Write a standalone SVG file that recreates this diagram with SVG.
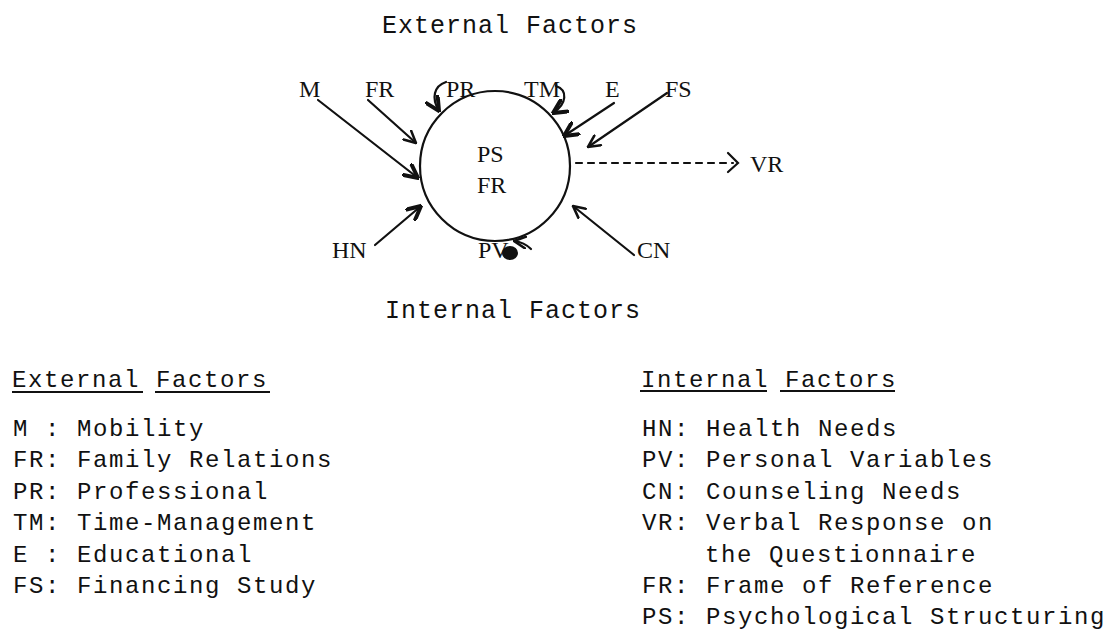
<svg xmlns="http://www.w3.org/2000/svg" width="1107" height="635" viewBox="0 0 1107 635">
<defs>
<style>
.t{font-family:"Liberation Mono","DejaVu Sans Mono",monospace;fill:#111}
.h{font-size:25px;letter-spacing:1px}
.l{font-size:24px;letter-spacing:1.6px}
.s{font-family:"Liberation Serif","DejaVu Serif",serif;font-size:24px;fill:#111}
.a{stroke:#111;stroke-width:2.2;fill:none;stroke-linecap:round}
.u{stroke:#111;stroke-width:2}
</style>
<marker id="ah" viewBox="0 0 12 12" refX="11" refY="6" markerWidth="14" markerHeight="14" markerUnits="userSpaceOnUse" orient="auto">
<path d="M1,1 L11,6 L1,11" fill="none" stroke="#111" stroke-width="2.2" stroke-linecap="round"/>
</marker>
<marker id="ahb" viewBox="0 0 12 12" refX="11" refY="6" markerWidth="16" markerHeight="16" markerUnits="userSpaceOnUse" orient="auto">
<path d="M1,1 L11,6 L1,11" fill="none" stroke="#111" stroke-width="3" stroke-linecap="round"/>
</marker>
</defs>
<rect width="1107" height="635" fill="#fff"/>

<text class="t h" x="382" y="33">External Factors</text>
<text class="t h" x="385" y="318">Internal Factors</text>

<g id="center">
<circle cx="495" cy="166" r="75" fill="none" stroke="#111" stroke-width="2.2"/>
<text class="s" x="477" y="162">PS</text>
<text class="s" x="477" y="193">FR</text>
</g>
<g id="M"><text class="s" x="299" y="97">M</text></g>
<g id="FR"><text class="s" x="365" y="97">FR</text></g>
<g id="PR"><text class="s" x="446" y="97">PR</text></g>
<g id="TM"><text class="s" x="524" y="97">TM</text></g>
<g id="E"><text class="s" x="605" y="97">E</text></g>
<g id="FS"><text class="s" x="665" y="97">FS</text></g>
<g id="HN"><text class="s" x="332" y="258">HN</text></g>
<g id="PV"><text class="s" x="478" y="258">PV</text></g>
<g id="CN"><text class="s" x="637" y="258">CN</text></g>
<g id="VR"><text class="s" x="750" y="172">VR</text></g>

<g id="connectors">
<line class="a" x1="318" y1="100" x2="418" y2="178" marker-end="url(#ahb)"/>
<line class="a" x1="368" y1="100" x2="416" y2="143" marker-end="url(#ah)"/>
<line class="a" x1="614" y1="103" x2="564" y2="136" marker-end="url(#ahb)"/>
<line class="a" x1="667" y1="93" x2="588" y2="147" marker-end="url(#ah)"/>
<line class="a" x1="375" y1="245" x2="421" y2="206" marker-end="url(#ahb)"/>
<line class="a" x1="634" y1="255" x2="573" y2="206" marker-end="url(#ah)"/>
<path class="a" d="M446,82 C434,86 431,98 439,111" stroke-width="3" marker-end="url(#ahb)"/>
<path class="a" d="M556,86 C568,90 567,104 553,113" stroke-width="3" marker-end="url(#ahb)"/>
<path class="a" d="M531,249 C527,245 522,242 514,241" marker-end="url(#ah)"/>
<ellipse cx="510" cy="253" rx="8" ry="7" fill="#111"/>
<line class="a" x1="576" y1="163" x2="733" y2="163" stroke-width="2.5" stroke-dasharray="6,6"/>
<polyline class="a" points="728,153 738,163 728,172" stroke-width="3.2"/>
</g>

<g id="legend-external">
<text class="t l" x="12" y="387">External Factors</text>
<line class="u" x1="12" y1="392" x2="143" y2="392"/>
<line class="u" x1="155" y1="392" x2="270" y2="392"/>
<text class="t l" x="13" y="436">M : Mobility</text>
<text class="t l" x="13" y="467.4">FR: Family Relations</text>
<text class="t l" x="13" y="498.8">PR: Professional</text>
<text class="t l" x="13" y="530.2">TM: Time-Management</text>
<text class="t l" x="13" y="561.6">E : Educational</text>
<text class="t l" x="13" y="593">FS: Financing Study</text>
</g>

<g id="legend-internal">
<text class="t l" x="641" y="387">Internal Factors</text>
<line class="u" x1="640" y1="391" x2="767" y2="391"/>
<line class="u" x1="780" y1="391" x2="895" y2="391"/>
<text class="t l" x="642" y="436">HN: Health Needs</text>
<text class="t l" x="642" y="467.4">PV: Personal Variables</text>
<text class="t l" x="642" y="498.8">CN: Counseling Needs</text>
<text class="t l" x="642" y="530.2">VR: Verbal Response on</text>
<text class="t l" x="705" y="561.6">the Questionnaire</text>
<text class="t l" x="642" y="593">FR: Frame of Reference</text>
<text class="t l" x="642" y="624.4">PS: Psychological Structuring</text>
</g>
</svg>
